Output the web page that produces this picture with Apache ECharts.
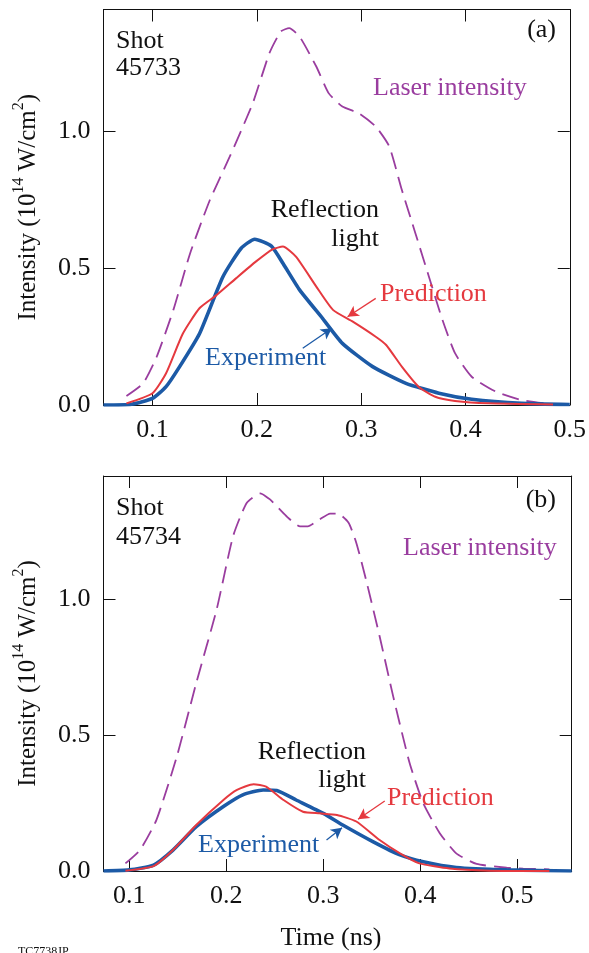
<!DOCTYPE html>
<html>
<head>
<meta charset="utf-8">
<script src="https://cdn.jsdelivr.net/npm/echarts@6/dist/echarts.min.js"></script>
<style>
html,body{margin:0;padding:0;background:#fff;}
#c{width:589px;height:953px;}
</style>
</head>
<body>
<div id="c"></div>
<script>
// ---- Data (time in ns, intensity in 10^14 W/cm^2) ----
const xTicksA = [0.1, 0.2, 0.3, 0.4, 0.5];
const xTicksB = [0.1, 0.2, 0.3, 0.4, 0.5];
const yTicks = [0.0, 0.5, 1.0];

// Panel (a) shot 45733
const expA = [[0.053,0.0],[0.08,0.003],[0.1,0.024],[0.113,0.067],[0.126,0.14],[0.145,0.26],[0.1675,0.468],[0.185,0.572],[0.198,0.605],[0.214,0.58],[0.225,0.517],[0.241,0.42],[0.263,0.316],[0.282,0.225],[0.311,0.14],[0.343,0.079],[0.3745,0.043],[0.406,0.021],[0.454,0.006],[0.5,0.002]];
const predA = [[0.075,0.006],[0.1,0.043],[0.113,0.116],[0.129,0.26],[0.145,0.353],[0.161,0.40],[0.18,0.462],[0.199,0.523],[0.215,0.568],[0.225,0.578],[0.2375,0.541],[0.257,0.432],[0.273,0.347],[0.292,0.304],[0.314,0.249],[0.324,0.219],[0.339,0.14],[0.355,0.067],[0.371,0.03],[0.39,0.015],[0.422,0.006],[0.484,0.002]];
const laserA = [[0.075,0.033],[0.091,0.079],[0.104,0.176],[0.12,0.347],[0.136,0.553],[0.155,0.748],[0.174,0.906],[0.196,1.10],[0.212,1.283],[0.223,1.363],[0.231,1.375],[0.241,1.344],[0.257,1.235],[0.269,1.137],[0.282,1.089],[0.298,1.064],[0.314,1.016],[0.327,0.943],[0.339,0.785],[0.352,0.627],[0.365,0.468],[0.378,0.31],[0.39,0.189],[0.406,0.103],[0.429,0.049],[0.454,0.018],[0.484,0.002]];

// Panel (b) shot 45734
const expB = [[0.0734,0.0],[0.1,0.004],[0.125,0.022],[0.145,0.077],[0.169,0.163],[0.197,0.237],[0.217,0.28],[0.238,0.298],[0.252,0.296],[0.272,0.261],[0.3,0.212],[0.32,0.169],[0.351,0.108],[0.379,0.059],[0.403,0.034],[0.437,0.013],[0.489,0.004],[0.556,0.0]];
const predB = [[0.096,0.001],[0.125,0.018],[0.145,0.077],[0.169,0.169],[0.197,0.261],[0.211,0.298],[0.228,0.319],[0.241,0.31],[0.259,0.261],[0.279,0.218],[0.296,0.212],[0.314,0.206],[0.334,0.182],[0.358,0.114],[0.379,0.065],[0.399,0.028],[0.43,0.009],[0.471,0.001],[0.533,0.0]];
const laserB = [[0.096,0.028],[0.111,0.077],[0.128,0.188],[0.149,0.421],[0.169,0.691],[0.19,0.961],[0.207,1.231],[0.221,1.353],[0.235,1.388],[0.245,1.366],[0.262,1.304],[0.276,1.267],[0.284,1.267],[0.296,1.292],[0.307,1.314],[0.315,1.314],[0.326,1.28],[0.334,1.206],[0.344,1.071],[0.358,0.863],[0.372,0.642],[0.389,0.396],[0.403,0.249],[0.42,0.139],[0.437,0.065],[0.458,0.026],[0.489,0.012],[0.506,0.009],[0.533,0.006]];

// Annotation arrows (data coords): [from, to]
const arrowPredA = [[0.314,0.389],[0.287,0.322]];
const arrowExpA  = [[0.244,0.207],[0.272,0.280]];
const arrowPredB = [[0.3633,0.257],[0.3358,0.190]];
const arrowExpB  = [[0.3033,0.114],[0.3193,0.159]];

const xRangeA = [0.053, 0.5];
const xRangeB = [0.0734, 0.556];
const yMaxA = 1.443, yMaxB = 1.452;

// ---- Styles ----
const FONT = 'Liberation Serif';
const BLUE = '#1c5aa6', RED = '#e5393f', PURPLE = '#9a3d9f', INK = '#111';

const chart = echarts.init(document.getElementById('c'), null, {renderer:'canvas'});

function xAx(gi, range, showLbl, showMax) {
  return {
    type:'value', gridIndex:gi, min:range[0], max:range[1], position: showLbl ? 'bottom':'top',
    axisLine:{show:true, onZero:false, lineStyle:{color:INK, width:1}},
    axisTick:{show:true, inside:true, length:12, lineStyle:{color:INK, width:1}},
    axisLabel:{show:showLbl, showMinLabel:false, showMaxLabel:showMax, margin:12, fontFamily:FONT, fontSize:26, color:INK,
      formatter:v=>v.toFixed(1)},
    splitLine:{show:false}
  };
}
function yAx(gi, yMax, showLbl) {
  return {
    type:'value', gridIndex:gi, min:0, max:yMax, interval:0.5, position: showLbl ? 'left':'right',
    axisLine:{show:true, onZero:false, lineStyle:{color:INK, width:1}},
    axisTick:{show:true, inside:true, length:12, lineStyle:{color:INK, width:1}},
    axisLabel:{show:showLbl, showMaxLabel:false, margin:13, fontFamily:FONT, fontSize:26, color:INK,
      formatter:v=>v.toFixed(1)},
    splitLine:{show:false},
    name: showLbl ? '{a|Intensity (10}{s|14}{a| W/cm}{s|2}{a|)}' : '',
    nameLocation:'middle', nameGap:63, nameRotate:90,
    nameTextStyle:{fontFamily:FONT, color:INK,
      rich:{a:{fontFamily:FONT, fontSize:25, color:INK, lineHeight:30, verticalAlign:'bottom'},
            s:{fontFamily:FONT, fontSize:16, color:INK, lineHeight:30, verticalAlign:'top'}}}
  };
}

function arrow(pts, color) {
  return {
    silent:true, symbol:['none','arrow'], symbolSize:[9,11], animation:false,
    label:{show:false}, lineStyle:{color:color, width:1.3, type:'solid'},
    data:[[{coord:pts[0]},{coord:pts[1]}]]
  };
}

function line(name, data, xi, yi, color, width, dashed, ml) {
  const s = {
    name, type:'line', xAxisIndex:xi, yAxisIndex:yi, data, smooth:0.18, showSymbol:false, symbol:'none',
    lineStyle:{color, width, type: dashed ? [17,8] : 'solid', cap:'butt'}, animation:false, z: dashed?2:3
  };
  if (ml) s.markLine = ml;
  return s;
}

const gridA = {left:103.5, right:17.3, top:9.5, height:395.5};
const gridB = {left:103.5, right:17.3, top:476, height:395};

function txt(x, y, s, color, align, size) {
  return {type:'text', x, y, silent:true, z:10,
    style:{text:s, fill:color, fontFamily:FONT, fontSize:size||26, align:align||'left', verticalAlign:'middle'}};
}

chart.setOption({
  backgroundColor:'#fff',
  animation:false,
  grid:[gridA, gridB],
  xAxis:[xAx(0,xRangeA,true,true), xAx(0,xRangeA,false,false), xAx(1,xRangeB,true,false), xAx(1,xRangeB,false,false)],
  yAxis:[yAx(0,yMaxA,true), yAx(0,yMaxA,false), yAx(1,yMaxB,true), yAx(1,yMaxB,false)],
  series:[
    line('Laser intensity', laserA, 0, 0, PURPLE, 1.8, true),
    line('Experiment', expA, 0, 0, BLUE, 3.6, false, arrow(arrowExpA, BLUE)),
    line('Prediction', predA, 0, 0, RED, 2, false, arrow(arrowPredA, RED)),
    line('Laser intensity', laserB, 2, 2, PURPLE, 1.8, true),
    line('Experiment', expB, 2, 2, BLUE, 3.6, false, arrow(arrowExpB, BLUE)),
    line('Prediction', predB, 2, 2, RED, 2, false, arrow(arrowPredB, RED))
  ],
  graphic:[
    txt(116, 41, 'Shot', INK), txt(116, 68, '45733', INK), txt(556, 30, '(a)', INK, 'right'),
    txt(373, 88, 'Laser intensity', PURPLE),
    txt(379, 210, 'Reflection', INK, 'right'), txt(379, 239, 'light', INK, 'right'),
    txt(380, 294, 'Prediction', RED), txt(205, 358, 'Experiment', BLUE),
    txt(116, 508, 'Shot', INK), txt(116, 537, '45734', INK), txt(556, 500, '(b)', INK, 'right'),
    txt(403, 548, 'Laser intensity', PURPLE),
    txt(366, 752, 'Reflection', INK, 'right'), txt(366, 780, 'light', INK, 'right'),
    txt(387, 798, 'Prediction', RED), txt(198, 845, 'Experiment', BLUE),
    txt(331, 938, 'Time (ns)', INK, 'center'),
    {type:'text', x:18, y:946, silent:true,
      style:{text:'TC7738JP', fill:INK, fontFamily:FONT, fontSize:12, align:'left', verticalAlign:'top'}}
  ]
});
</script>
</body>
</html>
